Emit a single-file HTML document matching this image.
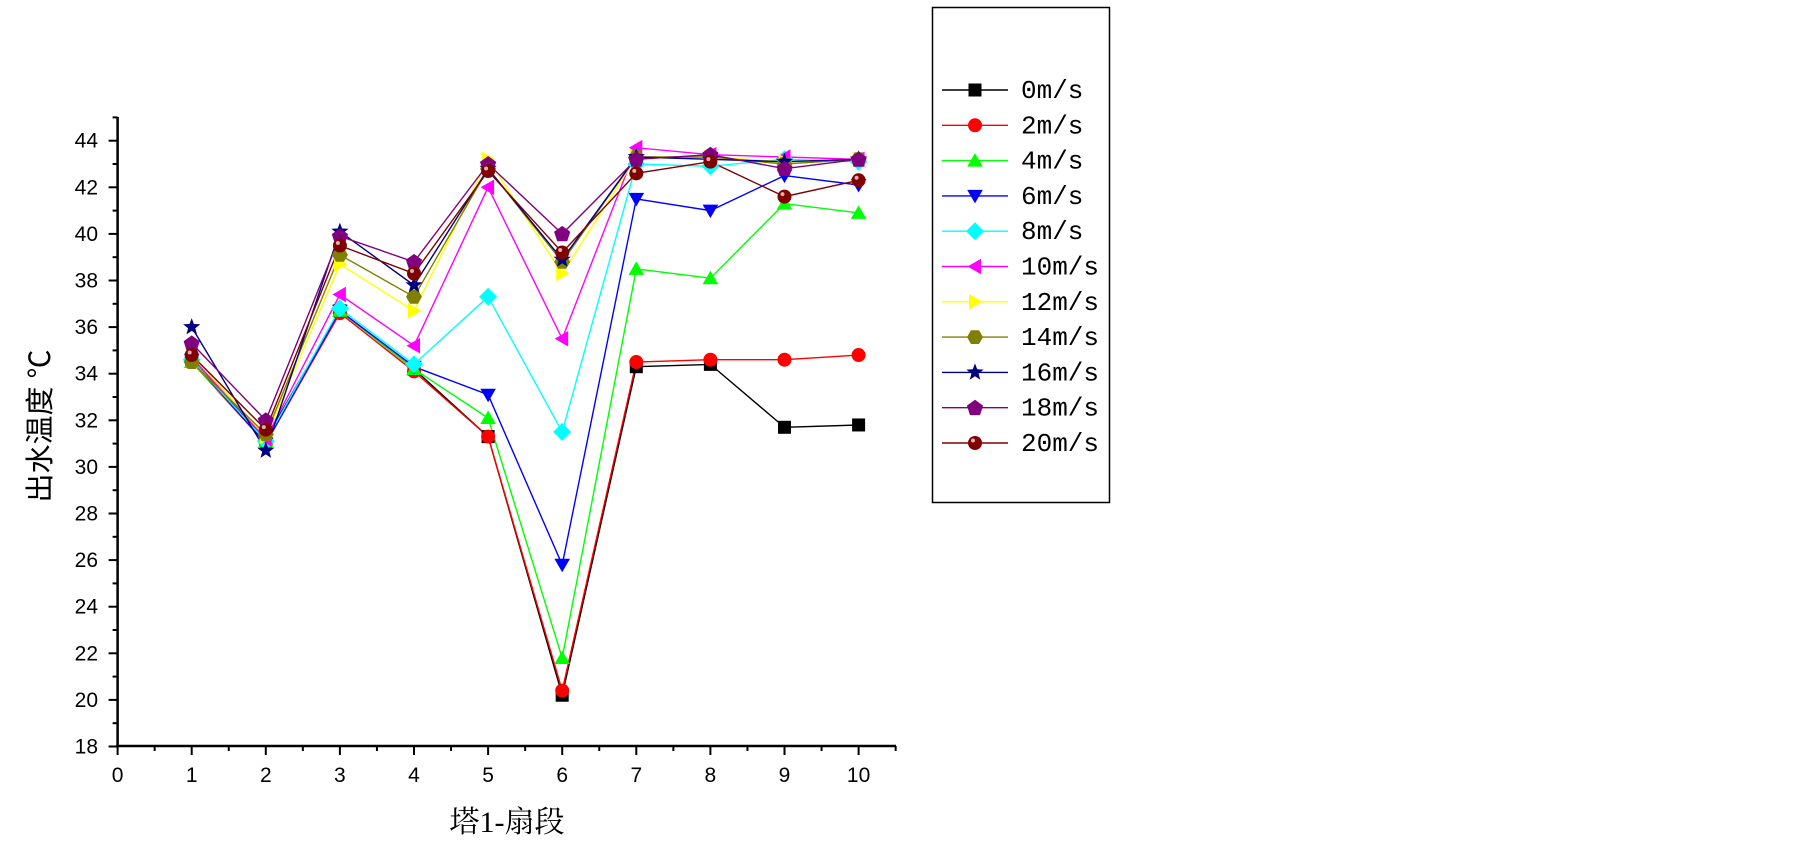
<!DOCTYPE html>
<html><head><meta charset="utf-8"><style>
html,body{margin:0;padding:0;background:#fff;}
svg{display:block;font-family:"Liberation Sans","Noto Sans CJK SC",sans-serif;}
</style></head><body>
<svg id="s" width="1805" height="844" xmlns="http://www.w3.org/2000/svg"></svg>
<script>
const S=document.getElementById('s');let h='';
const X=v=>117.6+v*74.1, Y=v=>140.7+(44-v)*23.3;
h+=`<line x1="117.6" y1="117" x2="117.6" y2="747" stroke="#000" stroke-width="2.5"/>`;
h+=`<line x1="116" y1="746" x2="896" y2="746" stroke="#000" stroke-width="2.5"/>`;
for(let v=18;v<=45;v++){const y=Y(v);const maj=v%2==0;
 h+=`<line x1="${117.6-(maj?9:5)}" y1="${y}" x2="117.6" y2="${y}" stroke="#000" stroke-width="2"/>`;
 if(maj&&v<=44)h+=`<text x="98" y="${y+7}" font-size="21" text-anchor="end">${v}</text>`;}
for(let i=0;i<=21;i++){const v=i/2,x=X(v),maj=i%2==0;
 h+=`<line x1="${x}" y1="746" x2="${x}" y2="${746+(maj?9:5)}" stroke="#000" stroke-width="2"/>`;
 if(maj)h+=`<text x="${x}" y="782" font-size="21" text-anchor="middle">${v}</text>`;}
h+=`<text x="507" y="832" font-size="30" text-anchor="middle" font-family="Liberation Serif,Noto Serif CJK SC,Noto Sans CJK SC,serif">塔1-扇段</text>`;
h+=`<text transform="translate(50,426) rotate(-90)" font-size="29" text-anchor="middle">出水温度 ℃</text>`;
const D=[
["0m/s","#000","sq",[34.6,31.2,36.7,34.2,31.3,20.2,34.3,34.4,31.7,31.8]],
["2m/s","#f00","ci",[34.5,31.0,36.6,34.1,31.3,20.4,34.5,34.6,34.6,34.8]],
["4m/s","#0f0","tu",[34.5,31.1,36.7,34.2,32.1,21.8,38.5,38.1,41.3,40.9]],
["6m/s","#00f","td",[34.6,31.0,36.7,34.3,33.1,25.8,41.5,41.0,42.5,42.1]],
["8m/s","#0ff","di",[34.6,31.1,36.8,34.4,37.3,31.5,43.0,42.9,43.2,43.1]],
["10m/s","#f0f","tl",[34.7,31.2,37.4,35.2,42.0,35.5,43.7,43.4,43.3,43.2]],
["12m/s","#ff0","tr",[34.8,31.3,38.7,36.7,43.2,38.3,43.3,43.3,43.1,43.2]],
["14m/s","#808000","hx",[34.5,31.4,39.1,37.3,42.8,38.8,43.3,43.3,43.0,43.2]],
["16m/s","#000080","st",[36.0,30.7,40.1,37.8,42.8,38.9,43.3,43.2,43.1,43.2]],
["18m/s","#800080","pe",[35.3,32.0,39.9,38.8,43.0,40.0,43.2,43.4,42.8,43.2]],
["20m/s","#800000","ba",[34.8,31.6,39.5,38.3,42.7,39.2,42.6,43.1,41.6,42.3]]];
function poly(n,r,x,y,rot){let p=[];for(let i=0;i<n;i++){const a=rot+i*2*Math.PI/n;p.push((x+r*Math.cos(a)).toFixed(1)+','+(y+r*Math.sin(a)).toFixed(1));}return p.join(' ');}
function mk(t,c,x,y){switch(t){
case"sq":return `<rect x="${x-6.5}" y="${y-6.5}" width="13" height="13" fill="${c}"/>`;
case"ci":return `<circle cx="${x}" cy="${y}" r="7" fill="${c}"/>`;
case"tu":return `<polygon points="${poly(3,9,x,y+1.5,-Math.PI/2)}" fill="${c}"/>`;
case"td":return `<polygon points="${poly(3,9,x,y-1.5,Math.PI/2)}" fill="${c}"/>`;
case"tl":return `<polygon points="${poly(3,9,x+1.5,y,Math.PI)}" fill="${c}"/>`;
case"tr":return `<polygon points="${poly(3,9,x-1.5,y,0)}" fill="${c}"/>`;
case"di":return `<polygon points="${poly(4,9,x,y,0)}" fill="${c}"/>`;
case"hx":return `<polygon points="${poly(6,8,x,y,0)}" fill="${c}"/>`;
case"pe":return `<polygon points="${poly(5,8.5,x,y+0.5,-Math.PI/2)}" fill="${c}"/>`;
case"st":{let p=[];for(let i=0;i<10;i++){const a=-Math.PI/2+i*Math.PI/5,rr=i%2?3.8:9;p.push((x+rr*Math.cos(a)).toFixed(1)+','+(y+rr*Math.sin(a)).toFixed(1));}return `<polygon points="${p.join(' ')}" fill="${c}"/>`;}
case"ba":return `<circle cx="${x}" cy="${y}" r="7" fill="${c}"/><circle cx="${x-2}" cy="${y-2.5}" r="2" fill="#fff" opacity=".7"/>`;}}
let lines='',marks='';
D.forEach(d=>{const pts=d[3].map((v,i)=>X(i+1).toFixed(1)+','+Y(v).toFixed(1)).join(' ');
 lines+=`<polyline points="${pts}" fill="none" stroke="${d[1]}" stroke-width="1.4"/>`;
 d[3].forEach((v,i)=>marks+=mk(d[2],d[1],X(i+1),Y(v)));});
h+=lines+marks;
h+=`<rect x="932.5" y="7.5" width="177" height="495" fill="none" stroke="#000" stroke-width="1.5"/>`;
D.forEach((d,i)=>{const y=90+i*35.3;
 h+=`<line x1="942" y1="${y}" x2="1008" y2="${y}" stroke="${d[1]}" stroke-width="1.4"/>`;
 h+=mk(d[2],d[1],975,y);
 h+=`<text x="1021" y="${y+8}" font-size="26" font-family="Liberation Mono,monospace">${d[0]}</text>`;});
S.innerHTML=h;
</script>
</body></html>
